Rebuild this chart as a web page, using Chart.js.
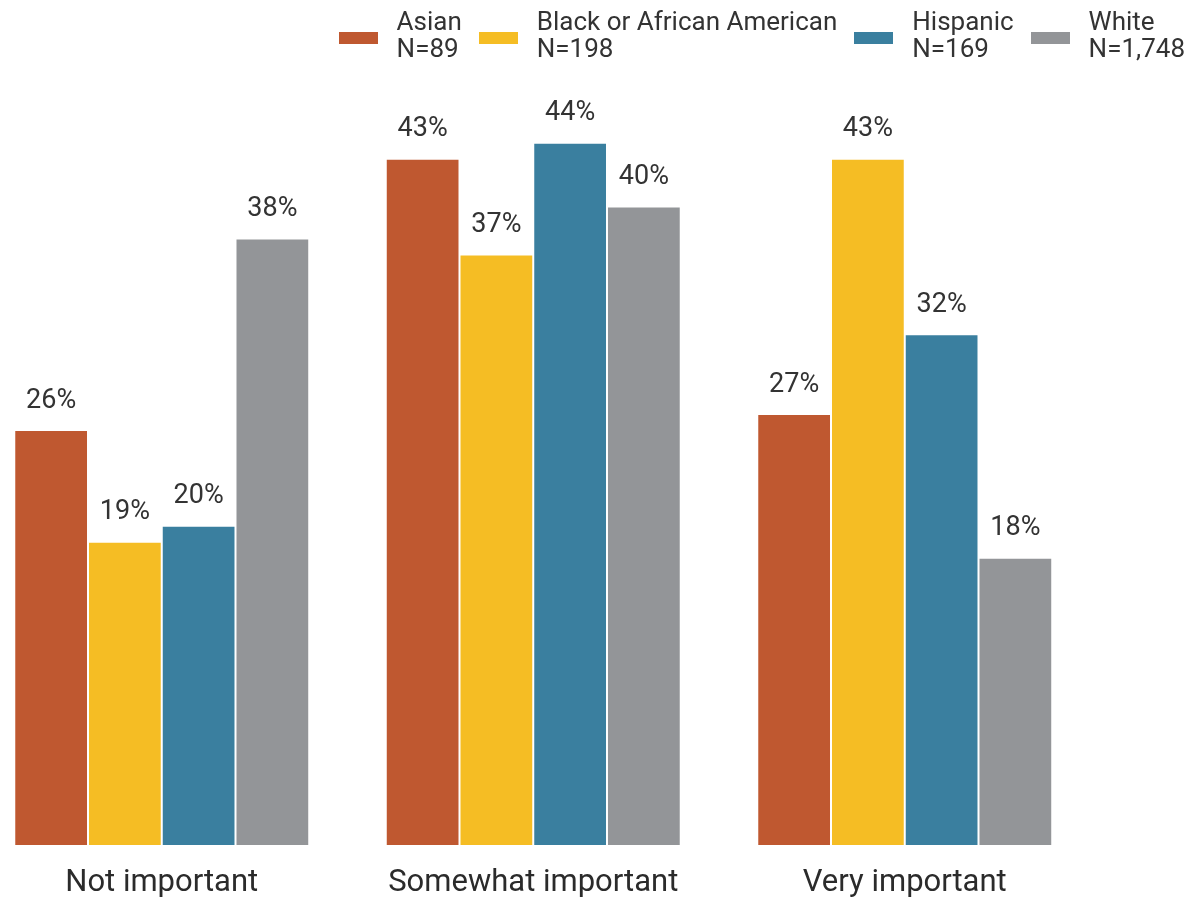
<!DOCTYPE html>
<html>
<head>
<meta charset="utf-8">
<script src="https://cdn.jsdelivr.net/npm/chart.js@4/dist/chart.umd.min.js"></script>
<style>
  html, body { margin: 0; padding: 0; background: #fff; overflow: hidden; }
  body { width: 1189px; height: 901px; position: relative; font-family: Roboto, sans-serif; }
  /* canvas is a bit wider/taller than the page so the groups line up with the reference */
  #wrap { position: absolute; left: -24px; top: 0; width: 1213px; height: 921px; }
  #legend { position: absolute; top: 8px; right: 4px; display: flex; gap: 17px; color: #333; font-size: 26px; line-height: 27px; }
  .item { display: flex; align-items: center; }
  .box { width: 39px; height: 12px; margin-right: 19px; margin-top: 6px; }
</style>
</head>
<body>
<div id="wrap"><canvas id="myChart"></canvas></div>
<div id="legend"></div>
<script>
// Data
const categories = ["Not important", "Somewhat important", "Very important"];
const groups = ["Asian", "Black or African American", "Hispanic", "White"];
const groupN = ["N=89", "N=198", "N=169", "N=1,748"];
const asian = [26, 43, 27];
const black = [19, 37, 43];
const hispanic = [20, 44, 32];
const white = [38, 40, 18];
const colors = ["#bf5830", "#f5bd24", "#3a7f9f", "#939598"];

const seriesValues = [asian, black, hispanic, white];

// HTML legend with two-line labels
const legendEl = document.getElementById("legend");
groups.forEach(function (name, i) {
    const item = document.createElement("div");
    item.className = "item";
    const box = document.createElement("div");
    box.className = "box";
    box.style.background = colors[i];
    const txt = document.createElement("div");
    txt.innerHTML = name + "<br>" + groupN[i];
    item.appendChild(box);
    item.appendChild(txt);
    legendEl.appendChild(item);
});

// Value labels above bars
const valueLabels = {
    id: "valueLabels",
    afterDatasetsDraw(chart) {
        const ctx = chart.ctx;
        ctx.save();
        ctx.fillStyle = "#333";
        ctx.font = "27px Roboto";
        ctx.textAlign = "center";
        ctx.textBaseline = "middle";
        chart.data.datasets.forEach(function (ds, di) {
            chart.getDatasetMeta(di).data.forEach(function (bar, i) {
                ctx.fillText(ds.data[i] + "%", bar.x, bar.y - 29);
            });
        });
        ctx.restore();
    },
};

const ctx = document.getElementById("myChart");
new Chart(ctx, {
    type: "bar",
    data: {
        labels: categories,
        datasets: groups.map(function (name, i) {
            return {
                label: name,
                data: seriesValues[i],
                backgroundColor: colors[i],
                borderColor: "#fff",
                borderWidth: 1,
                categoryPercentage: 0.794,
                barPercentage: 1,
            };
        }),
    },
    options: {
        responsive: true,
        maintainAspectRatio: false,
        animation: false,
        layout: { padding: { top: 47, right: 98.5, left: 0, bottom: 0 } },
        plugins: {
            legend: { display: false },
            tooltip: { enabled: false },
        },
        scales: {
            x: {
                grid: { display: false, drawTicks: false },
                border: { display: false },
                ticks: { color: "#2b2b2b", font: { family: "Roboto", size: 31, lineHeight: 1.1 }, padding: 21 },
            },
            y: {
                display: false,
                min: 0,
                max: 50,
            },
        },
    },
    plugins: [valueLabels],
});
</script>
</body>
</html>
